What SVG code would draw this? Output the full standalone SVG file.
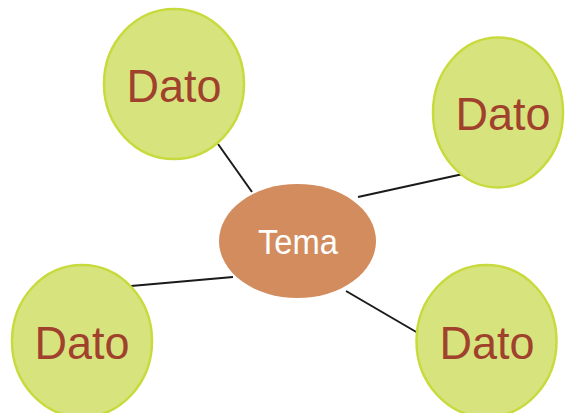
<svg xmlns="http://www.w3.org/2000/svg" width="565" height="413" viewBox="0 0 565 413">
<style>
.dato ellipse{fill:#D7E47E;stroke:#C8DA3E;stroke-width:2.5}
.dato text{font-family:"Liberation Sans",Arial,sans-serif;font-size:47px;fill:#A0412D;text-anchor:middle}
#tema ellipse{fill:#D38C5E}
#tema text{font-family:"Liberation Sans",Arial,sans-serif;font-size:35px;fill:#FFFFFF;text-anchor:middle}
#connectors line{stroke:#1a1a1a;stroke-width:2}
</style>
<rect width="565" height="413" fill="#FFFFFF"/>
<g id="connectors">
<line x1="218" y1="144" x2="252" y2="192"/>
<line x1="358" y1="197" x2="463" y2="174"/>
<line x1="131" y1="286" x2="233" y2="277"/>
<line x1="346" y1="291" x2="418" y2="333"/>
</g>
<g id="tema">
<ellipse cx="297.5" cy="241" rx="78.5" ry="57"/>
<text x="298" y="254" textLength="80" lengthAdjust="spacingAndGlyphs">Tema</text>
</g>
<g id="dato-tl" class="dato">
<ellipse cx="174" cy="84" rx="70" ry="75"/>
<text x="174" y="102" textLength="95" lengthAdjust="spacingAndGlyphs">Dato</text>
</g>
<g id="dato-tr" class="dato">
<ellipse cx="498" cy="112.5" rx="65" ry="75"/>
<text x="503" y="130" textLength="95" lengthAdjust="spacingAndGlyphs">Dato</text>
</g>
<g id="dato-bl" class="dato">
<ellipse cx="82" cy="341" rx="70" ry="76"/>
<text x="82" y="359" textLength="95" lengthAdjust="spacingAndGlyphs">Dato</text>
</g>
<g id="dato-br" class="dato">
<ellipse cx="486.5" cy="341" rx="70" ry="76"/>
<text x="487" y="359" textLength="95" lengthAdjust="spacingAndGlyphs">Dato</text>
</g>
</svg>
